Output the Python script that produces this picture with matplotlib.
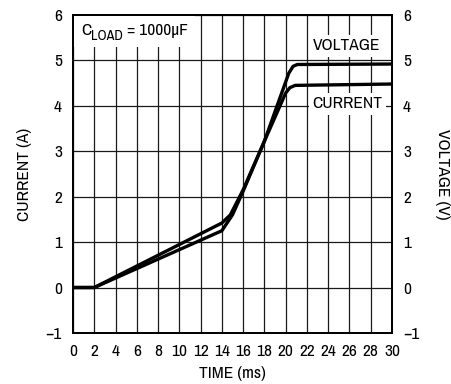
import matplotlib
matplotlib.use("Agg")
import matplotlib.pyplot as plt
from matplotlib.transforms import offset_copy

plt.rcParams['font.family'] = ['Archivo Narrow', 'DejaVu Sans']
plt.rcParams['axes.unicode_minus'] = True

# Data (time in ms)
current_t = [0, 2, 14, 14.8, 16, 18, 20.0, 20.4, 20.9, 30]
current_a = [0, 0, 1.42, 1.6, 2.15, 3.22, 4.28, 4.40, 4.45, 4.48]
voltage_t = [0, 2, 14, 15, 16, 18, 20.3, 20.7, 21.1, 30]
voltage_v = [0, 0, 1.25, 1.6, 2.12, 3.22, 4.72, 4.87, 4.91, 4.92]

x_ticks = list(range(0, 31, 2))
y_ticks = list(range(-1, 7))

fig = plt.figure(figsize=(4.51, 3.84), dpi=100)
ax = fig.add_axes([0.162, 0.133, 0.707, 0.828])
ax2 = ax.twinx()

ax.set_xlim(0, 30)
ax.set_ylim(-1, 6)
ax2.set_ylim(-1, 6)
ax.set_xticks(x_ticks)
ax.set_yticks(y_ticks)
ax2.set_yticks(y_ticks)
fs = 12.5
ax.set_xticklabels([str(v) for v in x_ticks], fontsize=fs)
ax.set_yticklabels([str(v).replace('-', '\u2212') for v in y_ticks], fontsize=fs)
ax2.set_yticklabels([str(v).replace('-', '\u2212') for v in y_ticks], fontsize=fs)
ax.tick_params(length=0, pad=8)
ax2.tick_params(length=0, pad=8)

ax.grid(True, color='#1a1a1a', linewidth=0.9, zorder=1)
ax.set_axisbelow(True)
for a in (ax, ax2):
    for s in a.spines.values():
        s.set_linewidth(1.3)
        s.set_color('black')

ax.plot(current_t, current_a, color='black', linewidth=2.4, solid_capstyle='butt', zorder=3)
ax.plot(voltage_t, voltage_v, color='black', linewidth=2.4, solid_capstyle='butt', zorder=3)

# white patch behind the C_LOAD label
ax.fill_between([0, 11.5], 5.3, 6, color='white', zorder=2, linewidth=0)

fig.canvas.draw()
r = fig.canvas.get_renderer()
t1 = ax.text(0.75, 5.55, 'C', fontsize=fs, ha='left', va='baseline', zorder=4)
w1 = t1.get_window_extent(r).width
t2 = ax.text(0.75, 5.55, 'LOAD', fontsize=fs * 0.82, ha='left', va='baseline', zorder=4,
             transform=offset_copy(ax.transData, fig=fig, x=w1 * 72 / 100, y=-3.5, units='points'))
w2 = t2.get_window_extent(r).width
ax.text(0.75, 5.55, ' = 1000µF', fontsize=fs, ha='left', va='baseline', zorder=4,
        transform=offset_copy(ax.transData, fig=fig, x=(w1 + w2) * 72 / 100, y=0, units='points'))

bbox = dict(facecolor='white', edgecolor='none', pad=2.5)
ax.text(25.75, 5.32, 'VOLTAGE', fontsize=fs, ha='center', va='center', bbox=bbox, zorder=4)
ax.text(25.8, 4.05, 'CURRENT', fontsize=fs, ha='center', va='center', bbox=bbox, zorder=4)

ax.set_xlabel('TIME (ms)', fontsize=fs, labelpad=5)
ax.set_ylabel('CURRENT (A)', fontsize=fs, labelpad=10)
ax2.set_ylabel('VOLTAGE (V)', fontsize=fs, rotation=-90, labelpad=22)

fig.savefig('out.png', dpi=100)
